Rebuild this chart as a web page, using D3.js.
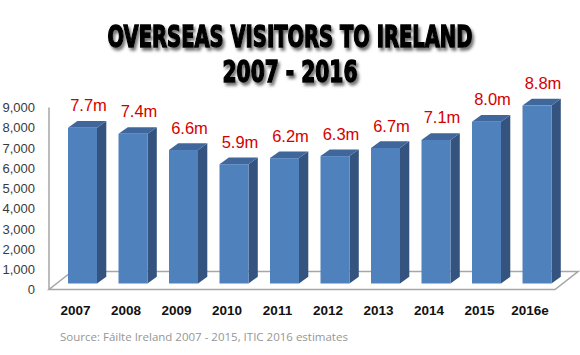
<!DOCTYPE html>
<html><head><meta charset="utf-8">
<script src="https://cdn.jsdelivr.net/npm/d3@7"></script>
<style>body{margin:0;background:#fff}svg{display:block}</style>
</head><body>
<svg id="c" width="580" height="355"></svg>
<script>
const years = ["2007","2008","2009","2010","2011","2012","2013","2014","2015","2016e"];
const visitors = [7700,7400,6600,5900,6200,6300,6700,7100,8000,8800];
const valueLabels = ["7.7m","7.4m","6.6m","5.9m","6.2m","6.3m","6.7m","7.1m","8.0m","8.8m"];
const yTicks = [0,1000,2000,3000,4000,5000,6000,7000,8000,9000];
const titleLines = ["OVERSEAS VISITORS TO IRELAND","2007 - 2016"];
const sourceText = "Source: Fáilte Ireland 2007 - 2015, ITIC 2016 estimates";

const svg = d3.select("#c");
const defs = svg.append("defs");
const f = defs.append("filter").attr("id","sh").attr("filterUnits","userSpaceOnUse")
  .attr("x",0).attr("y",0).attr("width",580).attr("height",120);
f.append("feDropShadow").attr("dx",2).attr("dy",3).attr("stdDeviation",1.6).attr("flood-color","#444").attr("flood-opacity",0.75);

const x = d3.scaleBand().domain(years).range([57.25,562.25]).paddingInner(0.426).paddingOuter(0.213);
const y = d3.scaleLinear().domain([0,9000]).range([289.5,107.5]);
const back = 6;
const dx = 9.3, dy = 6.7;
const axX = 49;

// floor
const fx0 = axX, fx1 = 555, fy = y(0), fdx = 23, fdy = 18;
const floorPts = [[fx0,fy],[fx1,fy],[fx1+fdx,fy-fdy],[fx0+fdx,fy-fdy]];
svg.append("path").attr("d","M"+floorPts.map(p=>p.join(",")).join("L")+"Z")
  .attr("fill","#fff").attr("stroke","#a6a6a6").attr("stroke-width",1.5);
svg.append("line").attr("x1",axX).attr("x2",axX).attr("y1",y(9000)).attr("y2",y(0))
  .attr("stroke","#a6a6a6").attr("stroke-width",1.5);

// y axis labels
const yAxis = d3.axisLeft(y).tickValues(yTicks).tickFormat(d3.format(",")).tickSize(0).tickPadding(14);
const gy = svg.append("g").attr("transform",`translate(${axX},0)`).call(yAxis);
gy.select(".domain").remove();
gy.selectAll("text").attr("font-family","'Liberation Sans',Arial,sans-serif").attr("font-size",13).attr("fill","#3a3a3a");

// bars
const bw = x.bandwidth();
const bars = svg.append("g").selectAll("g").data(years).join("g");
bars.each(function(d,i){
  const g = d3.select(this);
  const x0 = x(d), x1 = x0 + bw;
  const yt = y(visitors[i]) - back, yb = y(0) - back;
  g.append("path").attr("d",`M${x1},${yt}L${x1+dx},${yt-dy}L${x1+dx},${yb-dy}L${x1},${yb}Z`).attr("fill","#34547f");
  g.append("path").attr("d",`M${x0},${yt}L${x1},${yt}L${x1+dx},${yt-dy}L${x0+dx},${yt-dy}Z`).attr("fill","#3f679b");
  g.append("rect").attr("x",x0).attr("y",yt).attr("width",bw).attr("height",yb-yt).attr("fill","#4f81bd");
  g.append("text").attr("x",x0+bw/2+6).attr("y",yt-16.5).attr("text-anchor","middle")
    .attr("font-family","'Liberation Sans',Arial,sans-serif").attr("font-size",16.5).attr("fill","#d40000")
    .text(valueLabels[i]);
});

// x axis labels
const xAxis = d3.axisBottom(x).tickSize(0).tickPadding(0);
const gx = svg.append("g").attr("transform",`translate(-7,314.5)`).call(xAxis);
gx.select(".domain").remove();
gx.selectAll("text").attr("dy",null).attr("y",0)
  .attr("font-family","'Liberation Sans',Arial,sans-serif").attr("font-weight","bold").attr("font-size",13.5).attr("fill","#111");

// title (horizontally compressed to mimic a condensed heavy face)
const tW = [365,135], tY = [46.5,81.7];
const tg = svg.append("g").attr("filter","url(#sh)");
titleLines.forEach((t,i)=>{
  const txt = tg.append("text").attr("x",0).attr("y",0).attr("text-anchor","middle")
    .attr("font-family","'DejaVu Sans Condensed','Liberation Sans Narrow',sans-serif").attr("font-weight","bold")
    .attr("font-size",30).attr("fill","#000").attr("stroke","#000").attr("stroke-width",1.4).text(t);
  const w = txt.node().getComputedTextLength();
  txt.attr("transform",`translate(290,${tY[i]}) scale(${tW[i]/w},1)`);
});

// source
svg.append("text").attr("x",60).attr("y",341).attr("font-family","'Open Sans',sans-serif").attr("font-size",11.5)
  .attr("fill","#969696").text(sourceText);
</script>
</body></html>
